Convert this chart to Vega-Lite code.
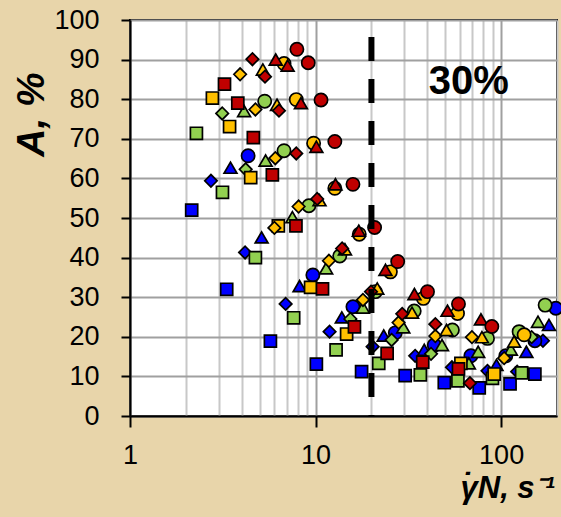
{
  "$schema": "https://vega.github.io/schema/vega-lite/v6.json",
  "autosize": {"type": "none"},
  "padding": {"left": 130, "top": 20, "right": 4, "bottom": 101},
  "width": 427,
  "height": 396,
  "background": "#e8d5aa",
  "config": {
    "view": {"stroke": "black", "strokeWidth": 2, "fill": "white"},
    "axis": {"labelFont": "Liberation Sans", "titleFont": "Liberation Sans", "labelColor": "black", "titleColor": "black"}
  },
  "layer": [
    {
      "data": {"values": [
        {"x": 2.15, "y": 52, "shape": "square", "color": "blue"},
        {"x": 3.32, "y": 32, "shape": "square", "color": "blue"},
        {"x": 5.71, "y": 18.9, "shape": "square", "color": "blue"},
        {"x": 10.1, "y": 13.1, "shape": "square", "color": "blue"},
        {"x": 17.7, "y": 11.2, "shape": "square", "color": "blue"},
        {"x": 30.4, "y": 10.2, "shape": "square", "color": "blue"},
        {"x": 49.4, "y": 8.4, "shape": "square", "color": "blue"},
        {"x": 76.2, "y": 7.1, "shape": "square", "color": "blue"},
        {"x": 111.7, "y": 8.1, "shape": "square", "color": "blue"},
        {"x": 152, "y": 10.6, "shape": "square", "color": "blue"},
        {"x": 2.73, "y": 59.4, "shape": "diamond", "color": "blue"},
        {"x": 4.17, "y": 41.3, "shape": "diamond", "color": "blue"},
        {"x": 6.9, "y": 28.3, "shape": "diamond", "color": "blue"},
        {"x": 11.9, "y": 21.3, "shape": "diamond", "color": "blue"},
        {"x": 20.3, "y": 17.5, "shape": "diamond", "color": "blue"},
        {"x": 34.4, "y": 15.2, "shape": "diamond", "color": "blue"},
        {"x": 54.3, "y": 12.3, "shape": "diamond", "color": "blue"},
        {"x": 84.4, "y": 11.4, "shape": "diamond", "color": "blue"},
        {"x": 122, "y": 11.2, "shape": "diamond", "color": "blue"},
        {"x": 168, "y": 19, "shape": "diamond", "color": "blue"},
        {"x": 3.48, "y": 62.7, "shape": "triangle", "color": "blue"},
        {"x": 5.12, "y": 45.1, "shape": "triangle", "color": "blue"},
        {"x": 8.2, "y": 32.8, "shape": "triangle", "color": "blue"},
        {"x": 13.85, "y": 24.9, "shape": "triangle", "color": "blue"},
        {"x": 23.3, "y": 20.3, "shape": "triangle", "color": "blue"},
        {"x": 38.5, "y": 16.7, "shape": "triangle", "color": "blue"},
        {"x": 94.4, "y": 12.9, "shape": "triangle", "color": "blue"},
        {"x": 136.8, "y": 16.2, "shape": "triangle", "color": "blue"},
        {"x": 181, "y": 23, "shape": "triangle", "color": "blue"},
        {"x": 4.33, "y": 65.7, "shape": "circle", "color": "blue"},
        {"x": 9.67, "y": 35.6, "shape": "circle", "color": "blue"},
        {"x": 15.9, "y": 27.6, "shape": "circle", "color": "blue"},
        {"x": 26.9, "y": 21, "shape": "circle", "color": "blue"},
        {"x": 43.6, "y": 17.9, "shape": "circle", "color": "blue"},
        {"x": 68.7, "y": 15.2, "shape": "circle", "color": "blue"},
        {"x": 106, "y": 15.2, "shape": "circle", "color": "blue"},
        {"x": 152, "y": 19, "shape": "circle", "color": "blue"},
        {"x": 197, "y": 27.2, "shape": "circle", "color": "blue"},
        {"x": 2.28, "y": 71.4, "shape": "square", "color": "green"},
        {"x": 3.15, "y": 56.5, "shape": "square", "color": "green"},
        {"x": 4.74, "y": 40, "shape": "square", "color": "green"},
        {"x": 7.62, "y": 24.8, "shape": "square", "color": "green"},
        {"x": 12.9, "y": 16.7, "shape": "square", "color": "green"},
        {"x": 21.9, "y": 13.3, "shape": "square", "color": "green"},
        {"x": 36.7, "y": 10.4, "shape": "square", "color": "green"},
        {"x": 58.5, "y": 8.9, "shape": "square", "color": "green"},
        {"x": 89.8, "y": 9.5, "shape": "square", "color": "green"},
        {"x": 129, "y": 10.9, "shape": "square", "color": "green"},
        {"x": 3.14, "y": 76.4, "shape": "diamond", "color": "green"},
        {"x": 4.2, "y": 62.3, "shape": "diamond", "color": "green"},
        {"x": 15.4, "y": 24.5, "shape": "diamond", "color": "green"},
        {"x": 25.7, "y": 19.2, "shape": "diamond", "color": "green"},
        {"x": 41.9, "y": 15.7, "shape": "diamond", "color": "green"},
        {"x": 146, "y": 19.9, "shape": "diamond", "color": "green"},
        {"x": 4.12, "y": 77, "shape": "triangle", "color": "green"},
        {"x": 5.38, "y": 64.5, "shape": "triangle", "color": "green"},
        {"x": 7.5, "y": 50.2, "shape": "triangle", "color": "green"},
        {"x": 11.4, "y": 37.3, "shape": "triangle", "color": "green"},
        {"x": 18, "y": 27.4, "shape": "triangle", "color": "green"},
        {"x": 29.7, "y": 22.4, "shape": "triangle", "color": "green"},
        {"x": 48, "y": 17.9, "shape": "triangle", "color": "green"},
        {"x": 67, "y": 13.3, "shape": "triangle", "color": "green"},
        {"x": 75.2, "y": 16.2, "shape": "triangle", "color": "green"},
        {"x": 112.8, "y": 16.8, "shape": "triangle", "color": "green"},
        {"x": 158, "y": 23.8, "shape": "triangle", "color": "green"},
        {"x": 5.32, "y": 79.5, "shape": "circle", "color": "green"},
        {"x": 6.76, "y": 67, "shape": "circle", "color": "green"},
        {"x": 9.2, "y": 53.1, "shape": "circle", "color": "green"},
        {"x": 13.5, "y": 40.4, "shape": "circle", "color": "green"},
        {"x": 21, "y": 31.4, "shape": "circle", "color": "green"},
        {"x": 34, "y": 26.5, "shape": "circle", "color": "green"},
        {"x": 54.6, "y": 21.7, "shape": "circle", "color": "green"},
        {"x": 84.4, "y": 19.6, "shape": "circle", "color": "green"},
        {"x": 125, "y": 21.3, "shape": "circle", "color": "green"},
        {"x": 172.6, "y": 28, "shape": "circle", "color": "green"},
        {"x": 2.78, "y": 80.3, "shape": "square", "color": "yellow"},
        {"x": 3.44, "y": 73.1, "shape": "square", "color": "yellow"},
        {"x": 4.47, "y": 60.2, "shape": "square", "color": "yellow"},
        {"x": 6.3, "y": 48, "shape": "square", "color": "yellow"},
        {"x": 9.4, "y": 32.5, "shape": "square", "color": "yellow"},
        {"x": 14.7, "y": 20.7, "shape": "square", "color": "yellow"},
        {"x": 60.7, "y": 13.3, "shape": "square", "color": "yellow"},
        {"x": 91.7, "y": 10.6, "shape": "square", "color": "yellow"},
        {"x": 3.92, "y": 86.3, "shape": "diamond", "color": "yellow"},
        {"x": 4.74, "y": 77.4, "shape": "diamond", "color": "yellow"},
        {"x": 6.07, "y": 65.1, "shape": "diamond", "color": "yellow"},
        {"x": 8.1, "y": 52.9, "shape": "diamond", "color": "yellow"},
        {"x": 6.0, "y": 47.5, "shape": "diamond", "color": "yellow"},
        {"x": 11.8, "y": 39.2, "shape": "diamond", "color": "yellow"},
        {"x": 18, "y": 29.3, "shape": "diamond", "color": "yellow"},
        {"x": 28, "y": 23.6, "shape": "diamond", "color": "yellow"},
        {"x": 44.2, "y": 20.2, "shape": "diamond", "color": "yellow"},
        {"x": 69.6, "y": 19.9, "shape": "diamond", "color": "yellow"},
        {"x": 103.8, "y": 14.6, "shape": "diamond", "color": "yellow"},
        {"x": 5.2, "y": 87.5, "shape": "triangle", "color": "yellow"},
        {"x": 6.2, "y": 78.6, "shape": "triangle", "color": "yellow"},
        {"x": 10.5, "y": 54.5, "shape": "triangle", "color": "yellow"},
        {"x": 14.4, "y": 42.1, "shape": "triangle", "color": "yellow"},
        {"x": 21.5, "y": 32.2, "shape": "triangle", "color": "yellow"},
        {"x": 33.1, "y": 26.1, "shape": "triangle", "color": "yellow"},
        {"x": 50.8, "y": 21.7, "shape": "triangle", "color": "yellow"},
        {"x": 78.8, "y": 19.9, "shape": "triangle", "color": "yellow"},
        {"x": 117.5, "y": 18.8, "shape": "triangle", "color": "yellow"},
        {"x": 6.76, "y": 89, "shape": "circle", "color": "yellow"},
        {"x": 7.87, "y": 79.9, "shape": "circle", "color": "yellow"},
        {"x": 9.76, "y": 68.9, "shape": "circle", "color": "yellow"},
        {"x": 12.7, "y": 57.5, "shape": "circle", "color": "yellow"},
        {"x": 17.2, "y": 45.9, "shape": "circle", "color": "yellow"},
        {"x": 25.3, "y": 36.4, "shape": "circle", "color": "yellow"},
        {"x": 38.1, "y": 29.7, "shape": "circle", "color": "yellow"},
        {"x": 58.2, "y": 25.9, "shape": "circle", "color": "yellow"},
        {"x": 133, "y": 20.5, "shape": "circle", "color": "yellow"},
        {"x": 3.23, "y": 83.8, "shape": "square", "color": "red"},
        {"x": 3.81, "y": 79, "shape": "square", "color": "red"},
        {"x": 4.62, "y": 70.3, "shape": "square", "color": "red"},
        {"x": 5.85, "y": 60.9, "shape": "square", "color": "red"},
        {"x": 7.84, "y": 48, "shape": "square", "color": "red"},
        {"x": 10.9, "y": 32.1, "shape": "square", "color": "red"},
        {"x": 16.2, "y": 22.5, "shape": "square", "color": "red"},
        {"x": 24.3, "y": 15.8, "shape": "square", "color": "red"},
        {"x": 37.8, "y": 13.6, "shape": "square", "color": "red"},
        {"x": 58.9, "y": 11.9, "shape": "square", "color": "red"},
        {"x": 4.57, "y": 90.1, "shape": "diamond", "color": "red"},
        {"x": 5.34, "y": 85.7, "shape": "diamond", "color": "red"},
        {"x": 6.35, "y": 77.1, "shape": "diamond", "color": "red"},
        {"x": 7.87, "y": 66.3, "shape": "diamond", "color": "red"},
        {"x": 10.2, "y": 54.8, "shape": "diamond", "color": "red"},
        {"x": 13.9, "y": 42.3, "shape": "diamond", "color": "red"},
        {"x": 19.9, "y": 31.4, "shape": "diamond", "color": "red"},
        {"x": 29.3, "y": 25.8, "shape": "diamond", "color": "red"},
        {"x": 44.2, "y": 23.2, "shape": "diamond", "color": "red"},
        {"x": 67.9, "y": 8.3, "shape": "diamond", "color": "red"},
        {"x": 6.1, "y": 90, "shape": "triangle", "color": "red"},
        {"x": 7.07, "y": 88.5, "shape": "triangle", "color": "red"},
        {"x": 8.34, "y": 79, "shape": "triangle", "color": "red"},
        {"x": 10.1, "y": 68, "shape": "triangle", "color": "red"},
        {"x": 12.8, "y": 58.5, "shape": "triangle", "color": "red"},
        {"x": 17.1, "y": 46.8, "shape": "triangle", "color": "red"},
        {"x": 23.8, "y": 36.9, "shape": "triangle", "color": "red"},
        {"x": 34.1, "y": 30.8, "shape": "triangle", "color": "red"},
        {"x": 51.4, "y": 26.6, "shape": "triangle", "color": "red"},
        {"x": 77.8, "y": 24.4, "shape": "triangle", "color": "red"},
        {"x": 7.93, "y": 92.6, "shape": "circle", "color": "red"},
        {"x": 9.13, "y": 89.2, "shape": "circle", "color": "red"},
        {"x": 10.7, "y": 79.8, "shape": "circle", "color": "red"},
        {"x": 12.7, "y": 69.3, "shape": "circle", "color": "red"},
        {"x": 15.9, "y": 58.5, "shape": "circle", "color": "red"},
        {"x": 20.8, "y": 47.6, "shape": "circle", "color": "red"},
        {"x": 27.7, "y": 39, "shape": "circle", "color": "red"},
        {"x": 40.1, "y": 31.4, "shape": "circle", "color": "red"},
        {"x": 58.9, "y": 28.3, "shape": "circle", "color": "red"},
        {"x": 89.1, "y": 22.6, "shape": "circle", "color": "red"}
      ]},
      "mark": {"type": "point", "filled": true, "stroke": "black", "strokeWidth": 1.7, "opacity": 1, "fillOpacity": 1, "strokeOpacity": 1},
      "encoding": {
        "x": {
          "field": "x", "type": "quantitative",
          "scale": {"type": "log", "domain": [1, 200], "nice": false},
          "axis": {
            "values": [1, 2, 3, 4, 5, 6, 7, 8, 9, 10, 20, 30, 40, 50, 60, 70, 80, 90, 100, 200],
            "format": "d",
            "labelExpr": "(datum.value == 1 || datum.value == 10 || datum.value == 100) ? datum.label : ''",
            "labelFontSize": 27,
            "labelPadding": 15,
            "labelFlush": false,
            "labelOverlap": false,
            "gridColor": {"condition": {"test": "datum.value == 1 || datum.value == 10 || datum.value == 100", "value": "#a0a0a0"}, "value": "#c8c8c8"},
            "gridWidth": 2,
            "tickColor": {"condition": {"test": "datum.value == 1 || datum.value == 10 || datum.value == 100", "value": "black"}, "value": "transparent"},
            "tickSize": 11,
            "tickWidth": 2,
            "domainColor": "black",
            "domainWidth": 2,
            "title": [" ˙", "γN, s⁻¹"],
            "titleFontSize": 31,
            "titleFontWeight": "bold",
            "titleFontStyle": "italic",
            "titleAlign": "left",
            "titleBaseline": "alphabetic",
            "titleLineHeight": 3,
            "titleX": 330,
            "titleY": 78
          }
        },
        "y": {
          "field": "y", "type": "quantitative",
          "scale": {"domain": [0, 100], "nice": false},
          "axis": {
            "values": [0, 10, 20, 30, 40, 50, 60, 70, 80, 90, 100],
            "labelFontSize": 27,
            "labelPadding": 22,
            "labelFlush": false,
            "labelOverlap": false,
            "gridColor": "#a0a0a0",
            "gridWidth": 2,
            "tickColor": "black",
            "tickSize": 9,
            "tickWidth": 2,
            "domainColor": "black",
            "domainWidth": 2,
            "title": "A, %",
            "titleFontSize": 39,
            "titleFontWeight": "bold",
            "titleFontStyle": "italic",
            "titleAngle": -90,
            "titleAlign": "center",
            "titleBaseline": "alphabetic",
            "titleX": -87,
            "titleY": 94
          }
        },
        "shape": {"field": "shape", "type": "nominal", "scale": {"domain": ["square", "diamond", "triangle", "circle"], "range": ["square", "diamond", "triangle-up", "circle"]}, "legend": null},
        "size": {"field": "shape", "type": "nominal", "scale": {"domain": ["square", "diamond", "triangle", "circle"], "range": [145, 175, 165, 150]}, "legend": null},
        "fill": {"field": "color", "type": "nominal", "scale": {"domain": ["blue", "green", "yellow", "red"], "range": ["#0000ff", "#92d050", "#ffc000", "#c00000"]}, "legend": null}
      }
    },
    {
      "data": {"values": [{}]},
      "mark": {"type": "rule", "color": "black", "strokeWidth": 6, "strokeDash": [24, 18], "strokeDashOffset": 25},
      "encoding": {
        "x": {"datum": 20, "type": "quantitative", "axis": {"values": [1, 2, 3, 4, 5, 6, 7, 8, 9, 10, 20, 30, 40, 50, 60, 70, 80, 90, 100, 200]}},
        "y": {"datum": 100, "type": "quantitative", "axis": {"values": [0, 10, 20, 30, 40, 50, 60, 70, 80, 90, 100]}},
        "y2": {"datum": 0}
      }
    },
    {
      "data": {"values": [{}]},
      "mark": {"type": "text", "font": "Liberation Sans", "fontSize": 40, "fontWeight": "bold", "align": "center", "baseline": "middle", "color": "black"},
      "encoding": {
        "x": {"datum": 67, "type": "quantitative", "axis": {"values": [1, 2, 3, 4, 5, 6, 7, 8, 9, 10, 20, 30, 40, 50, 60, 70, 80, 90, 100, 200]}},
        "y": {"datum": 84.4, "type": "quantitative", "axis": {"values": [0, 10, 20, 30, 40, 50, 60, 70, 80, 90, 100]}},
        "text": {"value": "30%"}
      }
    }
  ]
}
